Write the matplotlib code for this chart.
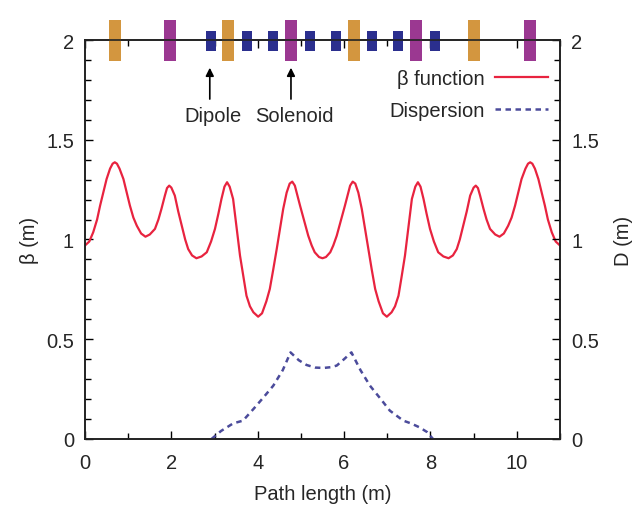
import matplotlib
matplotlib.use("Agg")
import matplotlib.pyplot as plt
from matplotlib.ticker import MultipleLocator

plt.rcParams["font.family"] = ["Liberation Sans", "DejaVu Sans"]

# beta function along the cell
s_beta = [0.00, 0.10, 0.19, 0.28, 0.35, 0.43, 0.50, 0.58, 0.64, 0.69, 0.74, 0.80, 0.89, 0.96,
          1.04, 1.12, 1.20, 1.30, 1.40, 1.50, 1.62, 1.70, 1.77, 1.85, 1.90, 1.95, 2.00, 2.08,
          2.16, 2.24, 2.32, 2.39, 2.48, 2.58, 2.70, 2.82, 2.92, 3.01, 3.09, 3.16, 3.23, 3.29,
          3.35, 3.43, 3.51, 3.59, 3.67, 3.74, 3.82, 3.90, 4.01, 4.10, 4.20, 4.28, 4.36, 4.44,
          4.52, 4.59, 4.67, 4.74, 4.80, 4.86, 4.92, 4.98, 5.08, 5.17, 5.25, 5.32, 5.42, 5.50,
          5.58, 5.68, 5.75, 5.83, 5.92, 6.02, 6.08, 6.14, 6.20, 6.26, 6.33, 6.41, 6.48, 6.56,
          6.64, 6.72, 6.80, 6.90, 6.99, 7.10, 7.18, 7.26, 7.33, 7.41, 7.49, 7.57, 7.65, 7.71,
          7.77, 7.84, 7.91, 7.99, 8.08, 8.18, 8.30, 8.42, 8.52, 8.61, 8.68, 8.76, 8.84, 8.92,
          9.00, 9.05, 9.10, 9.15, 9.23, 9.30, 9.38, 9.50, 9.60, 9.70, 9.80, 9.88, 9.96, 10.04,
          10.11, 10.20, 10.26, 10.31, 10.36, 10.42, 10.50, 10.57, 10.65, 10.72, 10.81, 10.90, 11.00]
beta = [0.970, 0.990, 1.036, 1.100, 1.170, 1.240, 1.303, 1.355, 1.380, 1.387, 1.380, 1.355, 1.303, 1.240,
        1.170, 1.110, 1.069, 1.030, 1.014, 1.025, 1.053, 1.100, 1.153, 1.220, 1.258, 1.270, 1.260, 1.220,
        1.140, 1.069, 1.000, 0.952, 0.920, 0.906, 0.915, 0.936, 0.990, 1.053, 1.130, 1.203, 1.265, 1.287,
        1.265, 1.203, 1.060, 0.919, 0.810, 0.718, 0.665, 0.635, 0.613, 0.630, 0.690, 0.752, 0.850, 0.952,
        1.060, 1.153, 1.235, 1.280, 1.290, 1.270, 1.220, 1.170, 1.090, 1.019, 0.970, 0.936, 0.912, 0.906,
        0.912, 0.936, 0.970, 1.019, 1.090, 1.170, 1.220, 1.270, 1.290, 1.280, 1.235, 1.153, 1.060, 0.952,
        0.850, 0.752, 0.690, 0.630, 0.613, 0.635, 0.665, 0.718, 0.810, 0.919, 1.060, 1.203, 1.265, 1.287,
        1.265, 1.203, 1.130, 1.053, 0.990, 0.936, 0.915, 0.906, 0.920, 0.952, 1.000, 1.069, 1.140, 1.220,
        1.260, 1.270, 1.258, 1.220, 1.153, 1.100, 1.053, 1.025, 1.014, 1.030, 1.069, 1.110, 1.170, 1.240,
        1.303, 1.355, 1.380, 1.387, 1.380, 1.355, 1.303, 1.240, 1.170, 1.100, 1.036, 0.990, 0.970]

# dispersion
s_disp = [2.93, 3.15, 3.43, 3.66, 3.90, 4.12, 4.36, 4.58, 4.76, 4.95, 5.13, 5.33, 5.52, 5.70,
          5.83, 6.00, 6.17, 6.38, 6.60, 6.85, 7.06, 7.37, 7.55, 7.75, 7.92, 8.06]
disp = [0.000, 0.040, 0.078, 0.092, 0.150, 0.205, 0.267, 0.345, 0.434, 0.395, 0.371, 0.358, 0.356, 0.360,
        0.368, 0.400, 0.434, 0.345, 0.267, 0.200, 0.142, 0.092, 0.078, 0.058, 0.035, 0.000]

# magnet positions along the beamline
quad_a = [0.69, 3.31, 6.22, 9.00]      # orange
quad_b = [1.97, 4.78, 7.67, 10.30]     # purple
dipoles = [2.92, 3.75, 4.35, 5.21, 5.81, 6.64, 7.25, 8.10]

fig = plt.figure(figsize=(6.41, 5.10), dpi=100)
ax = fig.add_axes([0.1326, 0.1373, 0.741, 0.7823])

ax.plot(s_beta, beta, color="#e8233f", lw=1.6, label="β function")
ax2 = ax.twinx()
ax2.plot(s_disp, disp, color="#4b4b9b", lw=1.8, ls=(0, (2.2, 1.8)), label="Dispersion")

ax.set_xlim(0, 11)
ax.set_ylim(0, 2)
ax2.set_ylim(0, 2)

# magnets sitting on the top axis line
ax.bar(quad_a, 0.205, width=0.28, bottom=1.895, color="#d3963f", clip_on=False, zorder=5)
ax.bar(quad_b, 0.205, width=0.28, bottom=1.895, color="#9b3891", clip_on=False, zorder=5)
ax.bar(dipoles, 0.10, width=0.23, bottom=1.945, color="#2b2f8e", clip_on=False, zorder=5)

fs = 14.5
txt = "#262626"

# labels with arrows
ax.annotate("", xy=(2.89, 1.875), xytext=(2.89, 1.69),
            arrowprops=dict(arrowstyle="-|>", color="black", lw=1.2, mutation_scale=12))
ax.annotate("", xy=(4.77, 1.875), xytext=(4.77, 1.69),
            arrowprops=dict(arrowstyle="-|>", color="black", lw=1.2, mutation_scale=12))
ax.text(2.97, 1.62, "Dipole", ha="center", va="center", fontsize=fs, color=txt)
ax.text(4.85, 1.62, "Solenoid", ha="center", va="center", fontsize=fs, color=txt)

for a in (ax, ax2):
    a.yaxis.set_major_locator(MultipleLocator(0.5))
    a.yaxis.set_minor_locator(MultipleLocator(0.1))
    a.yaxis.set_major_formatter(plt.FuncFormatter(lambda v, p: f"{v:g}"))
ax.xaxis.set_major_locator(MultipleLocator(2))
ax.xaxis.set_minor_locator(MultipleLocator(1))
ax.tick_params(axis="x", which="both", direction="in", top=True, labelsize=fs, pad=10)
ax.tick_params(axis="y", which="both", direction="in", right=False, labelsize=fs, pad=8)
ax2.tick_params(axis="y", which="both", direction="in", labelsize=fs, pad=8)
for a in (ax, ax2):
    a.tick_params(which="major", length=6, width=1, labelcolor=txt)
    a.tick_params(which="minor", length=4, width=1)
    for sp in a.spines.values():
        sp.set_linewidth(1.2)
        sp.set_color("#222222")

ax.set_xlabel("Path length (m)", fontsize=fs, labelpad=9, color=txt)
ax.set_ylabel("β (m)", fontsize=fs, labelpad=5, color=txt)
ax2.set_ylabel("D (m)", fontsize=fs, labelpad=11, color=txt)

h1, l1 = ax.get_legend_handles_labels()
h2, l2 = ax2.get_legend_handles_labels()
leg = ax2.legend(h1 + h2, l1 + l2, loc="upper right", bbox_to_anchor=(1.012, 0.972), frameon=False,
                 markerfirst=False, fontsize=fs, handlelength=2.6, labelspacing=0.65, handletextpad=0.5)
for t in leg.get_texts():
    t.set_color(txt)

fig.savefig("out.png", dpi=100)
